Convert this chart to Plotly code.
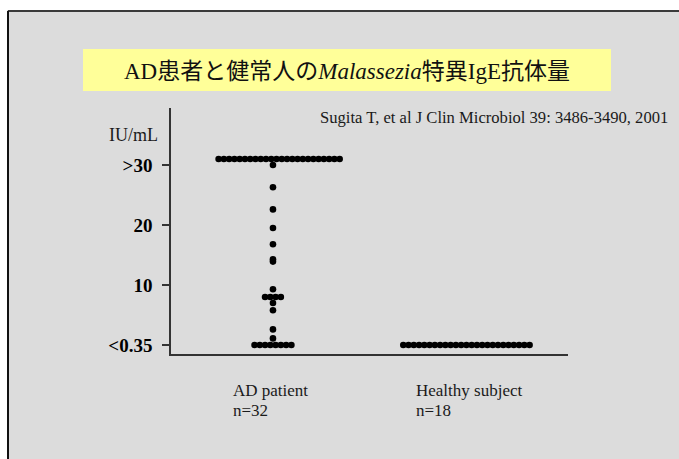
import plotly.graph_objects as go

# ---- data ----
groups = ["AD patient", "Healthy subject"]
group_n = [32, 18]
tick_values = [0, 10, 20, 30]
tick_labels = ["<0.35", "10", "20", ">30"]
# ">30" drawn as 31, "<0.35" drawn as 0
ad_values = [31, 31, 31, 31, 31, 31, 31, 31, 31, 31, 31, 31,
             31, 31, 31, 31, 31, 31, 31, 31, 31, 31, 31, 31,
             30, 26.3, 22.6, 19.5, 16.8, 14.3, 13.9, 9.3,
             8, 8, 8, 8, 7.0, 5.8, 2.6, 1.1,
             0, 0, 0, 0, 0, 0, 0, 0]
healthy_values = [0, 0, 0, 0, 0, 0, 0, 0, 0, 0, 0, 0,
                  0, 0, 0, 0, 0, 0, 0, 0, 0, 0, 0, 0, 0]
title_html = "AD患者と健常人の<i>Malassezia</i>特異IgE抗体量"
citation = "Sugita T, et al J Clin Microbiol 39: 3486-3490, 2001"

PITCH = 0.0272        # horizontal dot spacing in x-axis units
CAP_VALUE = 31        # value used for the ">30" overflow row
CAP_ROW_SHIFT = 0.032  # the overflow row is drawn slightly right of the column centre


def swarm(center, values):
    xs, ys = [], []
    counts = {}
    for v in values:
        counts[v] = counts.get(v, 0) + 1
    for v, k in counts.items():
        shift = CAP_ROW_SHIFT if v == CAP_VALUE else 0
        for i in range(k):
            xs.append(center + shift + (i - (k - 1) / 2) * PITCH)
            ys.append(v)
    return xs, ys


fig = go.Figure()
for gi, vals in enumerate([ad_values, healthy_values]):
    xs, ys = swarm(gi, vals)
    fig.add_trace(go.Scatter(x=xs, y=ys, mode="markers",
                             marker=dict(color="black", size=6.6, line=dict(width=0)),
                             showlegend=False, hoverinfo="skip"))

W, H = 679, 459
L, R, T, B = 171, 111, 108, 105
pw, ph = W - L - R, H - T - B


def px(x):
    return (x - L) / pw


def py(y):
    return (H - B - y) / ph


serif = "Liberation Serif, Times New Roman, serif"

shapes = [
    # white strips outside the gray panel
    dict(type="rect", xref="paper", yref="paper", x0=px(0), x1=px(W), y0=py(10), y1=py(0),
         fillcolor="white", line=dict(width=0), layer="below"),
    dict(type="rect", xref="paper", yref="paper", x0=px(0), x1=px(7), y0=py(H), y1=py(0),
         fillcolor="white", line=dict(width=0), layer="below"),
    # panel border (top and left)
    dict(type="line", xref="paper", yref="paper", x0=px(8), x1=px(W), y0=py(11), y1=py(11),
         line=dict(color="#3a3a3a", width=2), layer="below"),
    dict(type="line", xref="paper", yref="paper", x0=px(8), x1=px(8), y0=py(11), y1=py(H),
         line=dict(color="#111111", width=2), layer="below"),
    # yellow title box
    dict(type="rect", xref="paper", yref="paper", x0=px(83), x1=px(611), y0=py(91), y1=py(49),
         fillcolor="#ffff99", line=dict(width=0), layer="below"),
]

annotations = [
    dict(text=title_html, xref="paper", yref="paper", x=px(347), y=py(71), showarrow=False,
         xanchor="center", yanchor="middle",
         font=dict(family="Liberation Serif, Noto Sans CJK JP, serif", size=23, color="#111111")),
    dict(text=citation, xref="paper", yref="paper", x=px(318), y=py(117), showarrow=False,
         xanchor="left", yanchor="middle", font=dict(family=serif, size=16.6, color="#1a1a1a")),
    dict(text="IU/mL", xref="paper", yref="paper", x=px(133), y=py(135), showarrow=False,
         xanchor="center", yanchor="middle", font=dict(family=serif, size=18, color="#1a1a1a")),
]
label_left = [231, 414]
for gi, name in enumerate(groups):
    annotations.append(dict(text=name, xref="paper", yref="paper", x=px(label_left[gi]), y=py(390),
                            showarrow=False, xanchor="left", yanchor="middle",
                            font=dict(family=serif, size=17, color="#1a1a1a")))
    annotations.append(dict(text="n=%d" % group_n[gi], xref="paper", yref="paper",
                            x=px(label_left[gi]), y=py(410), showarrow=False,
                            xanchor="left", yanchor="middle",
                            font=dict(family=serif, size=17, color="#1a1a1a")))

fig.update_layout(
    width=W, height=H, margin=dict(l=L, r=R, t=T, b=B, pad=0),
    paper_bgcolor="#dcdcdc", plot_bgcolor="rgba(0,0,0,0)",
    shapes=shapes, annotations=annotations,
    xaxis=dict(range=[-0.527, 1.525], showline=True, linecolor="#333333", linewidth=1.5,
               showticklabels=False, ticks="", showgrid=False, zeroline=False, fixedrange=True),
    yaxis=dict(range=[-1.5, 39.5], showline=True, linecolor="#333333", linewidth=1.5,
               ticks="outside", ticklen=7, tickwidth=1.5, tickcolor="#333333",
               tickvals=tick_values, ticktext=tick_labels, ticklabelstandoff=6,
               tickfont=dict(family=serif, size=19, color="black", weight="bold"),
               showgrid=False, zeroline=False, fixedrange=True),
)

fig.write_html("out.html", config={"displayModeBar": False},
               post_script="document.body.style.margin='0';document.body.style.overflow='hidden';")
